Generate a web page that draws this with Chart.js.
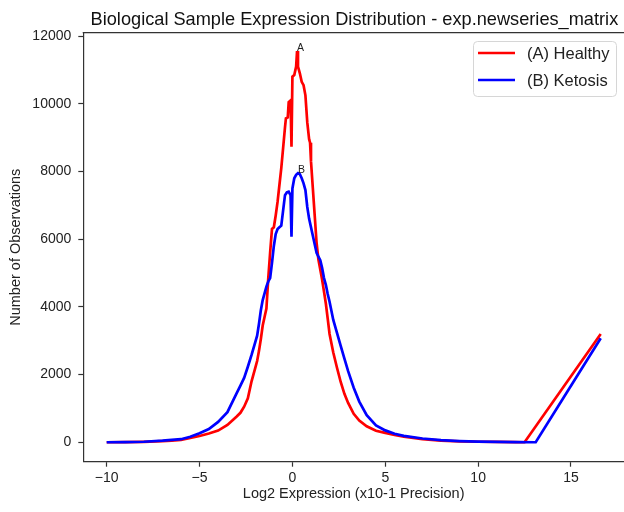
<!DOCTYPE html>
<html><head><meta charset="utf-8">
<script src="https://cdn.jsdelivr.net/npm/chart.js@4.4.0/dist/chart.umd.min.js"></script>
<style>html,body{margin:0;padding:0;background:#fff;overflow:hidden}canvas{display:block}</style>
</head><body>
<canvas id="c" width="624" height="512"></canvas>
<script>
const chartTitle = 'Biological Sample Expression Distribution - exp.newseries_matrix';
const xAxisTitle = 'Log2 Expression (x10-1 Precision)';
const yAxisTitle = 'Number of Observations';
const seriesNames = ['(A) Healthy', '(B) Ketosis'];
const peakLabels = ['A', 'B'];

const xHealthy = [-10,-9,-8,-7,-6.5,-6,-5.5,-5,-4.5,-4,-3.5,-3,-2.8,-2.6,-2.4,-2.2,-2.0,-1.9,-1.8,-1.7,-1.6,-1.5,-1.4,-1.3,-1.2,-1.1,-1.0,-0.9,-0.8,-0.7,-0.6,-0.5,-0.4,-0.35,-0.25,-0.2,-0.1,-0.05,0,0.1,0.2,0.25,0.3,0.4,0.5,0.6,0.7,0.8,0.9,0.95,1.0,1.1,1.2,1.3,1.4,1.5,1.6,1.7,1.8,1.9,2.0,2.2,2.4,2.6,2.8,3.0,3.3,3.6,4.0,4.5,5.0,5.5,6,7,8,9,10,11,12,12.5,16.6];
const yHealthy = [0,4,12,30,50,72,130,185,258,345,510,760,870,1050,1300,1800,2200,2400,2700,3050,3450,3700,3950,4850,5600,6300,6350,6700,7100,7600,8100,8700,9300,9570,9600,10050,10100,8730,10800,10850,11100,11560,11100,10900,10650,10550,10250,9450,8950,8850,8300,7500,6700,5900,5400,5100,4800,4450,4100,3650,3200,2650,2200,1780,1430,1160,840,640,470,340,275,215,165,90,45,25,15,8,3,0,3200];

const xKetosis = [-10,-9,-8,-7,-6.5,-6,-5.5,-5,-4.5,-4,-3.5,-3,-2.8,-2.6,-2.4,-2.2,-2.0,-1.9,-1.8,-1.7,-1.6,-1.5,-1.4,-1.3,-1.2,-1.1,-1.0,-0.9,-0.8,-0.7,-0.6,-0.5,-0.4,-0.3,-0.2,-0.1,-0.05,0,0.1,0.2,0.3,0.4,0.5,0.6,0.7,0.8,0.9,1.0,1.1,1.2,1.3,1.4,1.5,1.6,1.7,1.8,1.9,2.0,2.2,2.4,2.6,2.8,3.0,3.3,3.6,4.0,4.5,5.0,5.5,6,7,8,9,10,11,12,13.1,16.6];
const yKetosis = [0,5,15,45,70,90,160,265,390,600,890,1450,1670,1900,2230,2580,2960,3150,3500,3900,4200,4400,4600,4750,4850,5300,5800,6150,6300,6350,6400,6850,7300,7380,7400,7300,6075,7500,7800,7900,7950,7920,7800,7650,7450,6950,6600,6350,6100,5850,5600,5480,5380,5150,4850,4650,4380,4150,3613,3230,2850,2470,2100,1610,1200,800,500,350,250,190,110,60,35,20,10,5,0,3070];

const xTicks = [-10, -5, 0, 5, 10, 15];
const yTicks = [0, 2000, 4000, 6000, 8000, 10000, 12000];

const FONT = '"Liberation Sans", Arial, Helvetica, sans-serif';
const INK = '#222';
const SPINE = '#333';
const fmt = v => v < 0 ? '\u2212' + Math.abs(v) : String(v);
const toPts = (xs, ys) => xs.map((v, i) => ({x: v, y: ys[i]}));

const decor = {
  id: 'decor',
  afterDraw(chart) {
    const {ctx, chartArea: a, scales: {x, y}} = chart;
    ctx.save();
    // top spine
    ctx.strokeStyle = SPINE; ctx.lineWidth = 1.2;
    ctx.beginPath(); ctx.moveTo(a.left - 0.6, a.top); ctx.lineTo(a.right + 2, a.top); ctx.stroke();
    // peak annotations
    ctx.fillStyle = INK; ctx.font = '10.5px ' + FONT; ctx.textAlign = 'left'; ctx.textBaseline = 'alphabetic';
    [[xHealthy, yHealthy], [xKetosis, yKetosis]].forEach(([xs, ys], i) => {
      let k = 0; ys.forEach((v, j) => { if (v > ys[k]) k = j; });
      ctx.fillText(peakLabels[i], x.getPixelForValue(xs[k]), y.getPixelForValue(ys[k]));
    });
    // legend
    const lx = 473.5, ly = 41.5, lw = 143, lh = 55, r = 4;
    ctx.beginPath();
    ctx.moveTo(lx + r, ly); ctx.lineTo(lx + lw - r, ly); ctx.quadraticCurveTo(lx + lw, ly, lx + lw, ly + r);
    ctx.lineTo(lx + lw, ly + lh - r); ctx.quadraticCurveTo(lx + lw, ly + lh, lx + lw - r, ly + lh);
    ctx.lineTo(lx + r, ly + lh); ctx.quadraticCurveTo(lx, ly + lh, lx, ly + lh - r);
    ctx.lineTo(lx, ly + r); ctx.quadraticCurveTo(lx, ly, lx + r, ly); ctx.closePath();
    ctx.fillStyle = 'rgba(255,255,255,0.8)'; ctx.fill();
    ctx.strokeStyle = '#d6d6d6'; ctx.lineWidth = 1; ctx.stroke();
    chart.data.datasets.forEach((ds, i) => {
      const yy = 53 + i * 27;
      ctx.strokeStyle = ds.borderColor; ctx.lineWidth = 2.7;
      ctx.beginPath(); ctx.moveTo(478, yy); ctx.lineTo(515, yy); ctx.stroke();
      ctx.fillStyle = INK; ctx.font = '16.5px ' + FONT; ctx.textAlign = 'left'; ctx.textBaseline = 'middle';
      ctx.fillText(ds.label, 527, yy + 1);
    });
    // title
    ctx.fillStyle = '#111'; ctx.font = '18.2px ' + FONT; ctx.textAlign = 'center'; ctx.textBaseline = 'alphabetic';
    ctx.fillText(chartTitle, 354.4, 24.5);
    ctx.restore();
  }
};

new Chart(document.getElementById('c'), {
  type: 'scatter',
  data: {
    datasets: [
      {label: seriesNames[0], data: toPts(xHealthy, yHealthy), showLine: true, borderColor: '#ff0000', backgroundColor: '#ff0000', borderWidth: 2.7, pointRadius: 0, tension: 0, fill: false, order: 1},
      {label: seriesNames[1], data: toPts(xKetosis, yKetosis), showLine: true, borderColor: '#0000ff', backgroundColor: '#0000ff', borderWidth: 2.7, pointRadius: 0, tension: 0, fill: false, order: 0}
    ]
  },
  options: {
    responsive: false, animation: false, devicePixelRatio: 1,
    layout: {padding: {top: 32.7, left: 0, right: 0, bottom: 0}},
    plugins: {legend: {display: false}, title: {display: false}, tooltip: {enabled: false}},
    scales: {
      x: {
        type: 'linear', min: -11.26, max: 17.854,
        afterBuildTicks: s => { s.ticks = xTicks.map(v => ({value: v})); },
        afterFit: s => { s.height = 50.3; },
        ticks: {color: INK, font: {family: FONT, size: 14}, padding: 3, maxRotation: 0, autoSkip: false, callback: v => fmt(v)},
        grid: {display: true, drawOnChartArea: false, drawTicks: true, tickLength: 5, tickWidth: 1.2, tickColor: SPINE},
        border: {display: true, color: SPINE, width: 1.2},
        title: {display: true, text: xAxisTitle, color: INK, font: {family: FONT, size: 14.5}, padding: {top: 0, bottom: 9}}
      },
      y: {
        type: 'linear', min: -575, max: 12100,
        afterBuildTicks: s => { s.ticks = yTicks.map(v => ({value: v})); },
        afterFit: s => { s.width = 83.3; },
        ticks: {color: INK, font: {family: FONT, size: 14}, padding: 7, autoSkip: false, callback: v => fmt(v)},
        grid: {display: true, drawOnChartArea: false, drawTicks: true, tickLength: 5, tickWidth: 1.2, tickColor: SPINE},
        border: {display: true, color: SPINE, width: 1.2},
        title: {display: true, text: yAxisTitle, color: INK, font: {family: FONT, size: 14.5}, padding: {top: 7, bottom: 0}}
      }
    }
  },
  plugins: [decor]
});
</script>
</body></html>
